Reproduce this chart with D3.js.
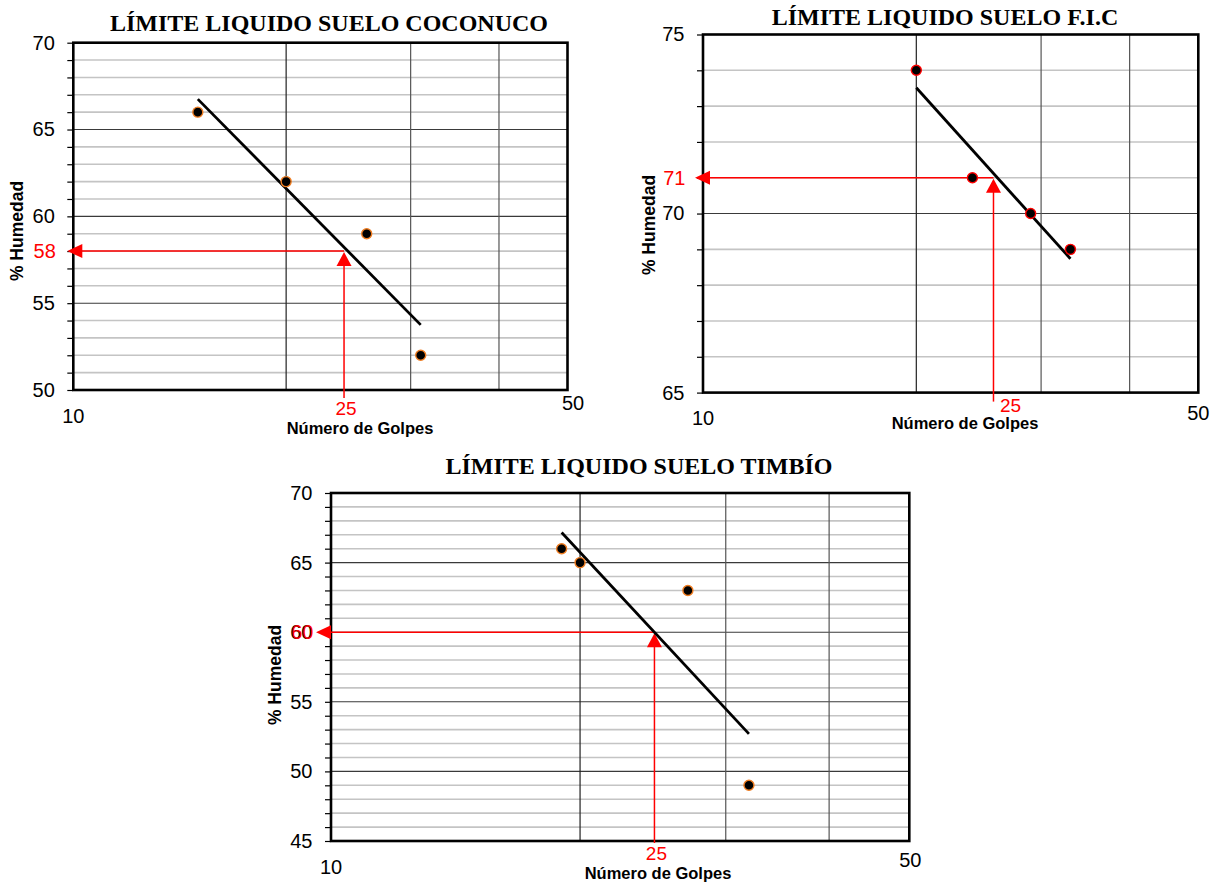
<!DOCTYPE html>
<html><head><meta charset="utf-8">
<script src="https://cdn.jsdelivr.net/npm/d3@7"></script>
<style>body{margin:0;background:#fff}</style>
</head><body><svg id="c" width="1221" height="882"></svg>
<script>
// ---- data ----
const titles = ["LÍMITE LIQUIDO SUELO COCONUCO", "LÍMITE LIQUIDO SUELO F.I.C", "LÍMITE LIQUIDO SUELO TIMBÍO"];
const golpesCoconuco = [15, 20, 26, 31];
const humedadCoconuco = [66, 62, 59, 52];
const golpesFIC = [20, 24, 29, 33];
const humedadFIC = [74, 71, 70, 69];
const golpesTimbio = [19, 20, 27, 32];
const humedadTimbio = [66, 65, 63, 49];
const yDomains = [[50, 70], [65, 75], [45, 70]];
const yTickLabels = [[50, 55, 60, 65, 70], [65, 70, 75], [45, 50, 55, 60, 65, 70]];
const yMajorLines = [[55, 60, 65], [70], [50, 55, 60, 65]];
const xDomain = [10, 50];
const xGridValues = [20, 30, 40];
const xEndLabels = ["10", "50"];
const limiteLiquido = [58, 71, 60];        // red value read on the Y axis
const arrowGolpes = [24.15, 25.7, 24.6];   // where the red guide is drawn
const arrowLabel = "25";
const yTitle = "% Humedad";
const xTitle = "Número de Golpes";
const markerStroke = ["#ef7d22", "#ff0000", "#ef7d22"];

const series = [
  {x: golpesCoconuco, y: humedadCoconuco},
  {x: golpesFIC, y: humedadFIC},
  {x: golpesTimbio, y: humedadTimbio}
];

// ---- layout ----
const layout = [
  {l:73.3, r:567.5, t:42.7, b:390, titleX:329, titleY:23, yTitleX:17, yTitleY:231, xTitleX:360, xTitleY:428.5,
   x10Y:416, x50dx:5.5, x50Y:403, tipDx:-6, lbl25dx:2, lbl25Y:408, below:8, redShift:1},
  {l:703, r:1198.3, t:34.5, b:392.6, titleX:945, titleY:17, yTitleX:649, yTitleY:225, xTitleX:965, xTitleY:423.5,
   x10Y:418, x50dx:0, x50Y:412.7, tipDx:-8, lbl25dx:17, lbl25Y:405, below:9, redShift:1},
  {l:331, r:909.3, t:493, b:841, titleX:639, titleY:466, yTitleX:275, yTitleY:675, xTitleX:658, xTitleY:873.5,
   x10Y:867, x50dx:1, x50Y:860, tipDx:-15, lbl25dx:2, lbl25Y:853, below:2, redShift:1}
];

const svg = d3.select("#c");
svg.append("rect").attr("width",1221).attr("height",882).attr("fill","#fff");
const SANS = "'Liberation Sans', Arial, sans-serif";
const SERIF = "'Liberation Serif', 'Times New Roman', serif";
const FS = 20;

series.forEach((s, i) => {
  const L = layout[i];
  const g = svg.append("g");
  const x = d3.scaleLog().domain(xDomain).range([L.l, L.r]);
  const y = d3.scaleLinear().domain(yDomains[i]).range([L.b, L.t]);
  const ints = d3.range(yDomains[i][0], yDomains[i][1] + 1);

  // minor horizontal gridlines
  g.selectAll(".minor").data(ints.filter(v => v > yDomains[i][0] && v < yDomains[i][1] && !yMajorLines[i].includes(v)))
    .join("line").attr("x1", L.l).attr("x2", L.r).attr("y1", d => y(d)).attr("y2", d => y(d))
    .attr("stroke", "#c4c4c4").attr("stroke-width", 1.6);
  // major horizontal gridlines
  g.selectAll(".major").data(yMajorLines[i]).join("line")
    .attr("x1", L.l).attr("x2", L.r).attr("y1", d => y(d)).attr("y2", d => y(d))
    .attr("stroke", "#3a3a3a").attr("stroke-width", 1.1);
  // vertical gridlines
  g.selectAll(".vg").data(xGridValues).join("line")
    .attr("x1", d => x(d)).attr("x2", d => x(d)).attr("y1", L.t).attr("y2", L.b)
    .attr("stroke", (d, k) => k === 0 ? "#222" : "#555").attr("stroke-width", 1.2);

  // y axis
  const ax = d3.axisLeft(y).tickValues(ints).tickSize(6).tickPadding(12.5)
    .tickFormat(d => yTickLabels[i].includes(d) ? d : "");
  const ag = g.append("g").attr("transform", `translate(${L.l},0)`).call(ax);
  ag.select(".domain").remove();
  ag.selectAll(".tick line").attr("stroke", "#000").attr("stroke-width", 1.2);
  ag.selectAll(".tick text").attr("font-family", SANS).attr("font-size", FS).attr("fill", "#000");

  // plot border
  g.append("rect").attr("x", L.l).attr("y", L.t).attr("width", L.r - L.l).attr("height", L.b - L.t)
    .attr("fill", "none").attr("stroke", "#000").attr("stroke-width", 2.6);

  // x end labels
  g.append("text").attr("x", x(xDomain[0])).attr("y", L.x10Y).attr("dy", "0.35em").attr("text-anchor", "middle")
    .attr("font-family", SANS).attr("font-size", FS).text(xEndLabels[0]);
  g.append("text").attr("x", x(xDomain[1]) + L.x50dx).attr("y", L.x50Y).attr("dy", "0.35em").attr("text-anchor", "middle")
    .attr("font-family", SANS).attr("font-size", FS).text(xEndLabels[1]);

  // titles
  g.append("text").attr("x", L.titleX).attr("y", L.titleY).attr("dy", "0.35em").attr("text-anchor", "middle")
    .attr("font-family", SERIF).attr("font-weight", "bold").attr("font-size", 24).text(titles[i]);
  g.append("text").attr("x", L.xTitleX).attr("y", L.xTitleY).attr("dy", "0.35em").attr("text-anchor", "middle")
    .attr("font-family", SANS).attr("font-weight", "bold").attr("font-size", 16.5).text(xTitle);
  g.append("text").attr("transform", `translate(${L.yTitleX},${L.yTitleY}) rotate(-90)`).attr("dy", "0.35em")
    .attr("text-anchor", "middle").attr("font-family", SANS).attr("font-weight", "bold").attr("font-size", 17.5).text(yTitle);

  // red guide
  const ax0 = x(arrowGolpes[i]), ay0 = y(limiteLiquido[i]);
  const red = "#ff0000";
  g.append("line").attr("x1", L.l + L.tipDx + 4).attr("x2", ax0).attr("y1", ay0).attr("y2", ay0)
    .attr("stroke", red).attr("stroke-width", 1.5);
  g.append("line").attr("x1", ax0).attr("x2", ax0).attr("y1", ay0 + 4).attr("y2", L.b + L.below)
    .attr("stroke", red).attr("stroke-width", 1.5);
  const tip = L.l + L.tipDx;
  g.append("path").attr("d", `M${tip},${ay0}L${tip + 15},${ay0 - 7}L${tip + 15},${ay0 + 7}Z`).attr("fill", red);
  g.append("path").attr("d", `M${ax0},${ay0 + 1}L${ax0 - 7.5},${ay0 + 15}L${ax0 + 7.5},${ay0 + 15}Z`).attr("fill", red);
  g.append("text").attr("x", L.l - 18.5 + L.redShift).attr("y", ay0).attr("dy", "0.35em").attr("text-anchor", "end")
    .attr("font-family", SANS).attr("font-size", FS).attr("fill", red).text(limiteLiquido[i]);
  g.append("text").attr("x", ax0 + L.lbl25dx).attr("y", L.lbl25Y).attr("dy", "0.35em").attr("text-anchor", "middle")
    .attr("font-family", SANS).attr("font-size", FS - 1).attr("fill", red).text(arrowLabel);

  // trend line: least squares of humedad on log10(golpes)
  const lx = s.x.map(v => Math.log10(v));
  const mx = d3.mean(lx), my = d3.mean(s.y);
  const slope = d3.sum(lx.map((v, k) => (v - mx) * (s.y[k] - my))) / d3.sum(lx.map(v => (v - mx) ** 2));
  const f = v => my + slope * (Math.log10(v) - mx);
  const ext = d3.extent(s.x);
  g.append("line").attr("x1", x(ext[0])).attr("y1", y(f(ext[0]))).attr("x2", x(ext[1])).attr("y2", y(f(ext[1])))
    .attr("stroke", "#000").attr("stroke-width", 2.8);

  // points
  g.selectAll(".pt").data(s.x.map((v, k) => [v, s.y[k]])).join("circle")
    .attr("cx", d => x(d[0])).attr("cy", d => y(d[1])).attr("r", 5)
    .attr("fill", "#000").attr("stroke", markerStroke[i]).attr("stroke-width", 1.4);
});
</script></body></html>
